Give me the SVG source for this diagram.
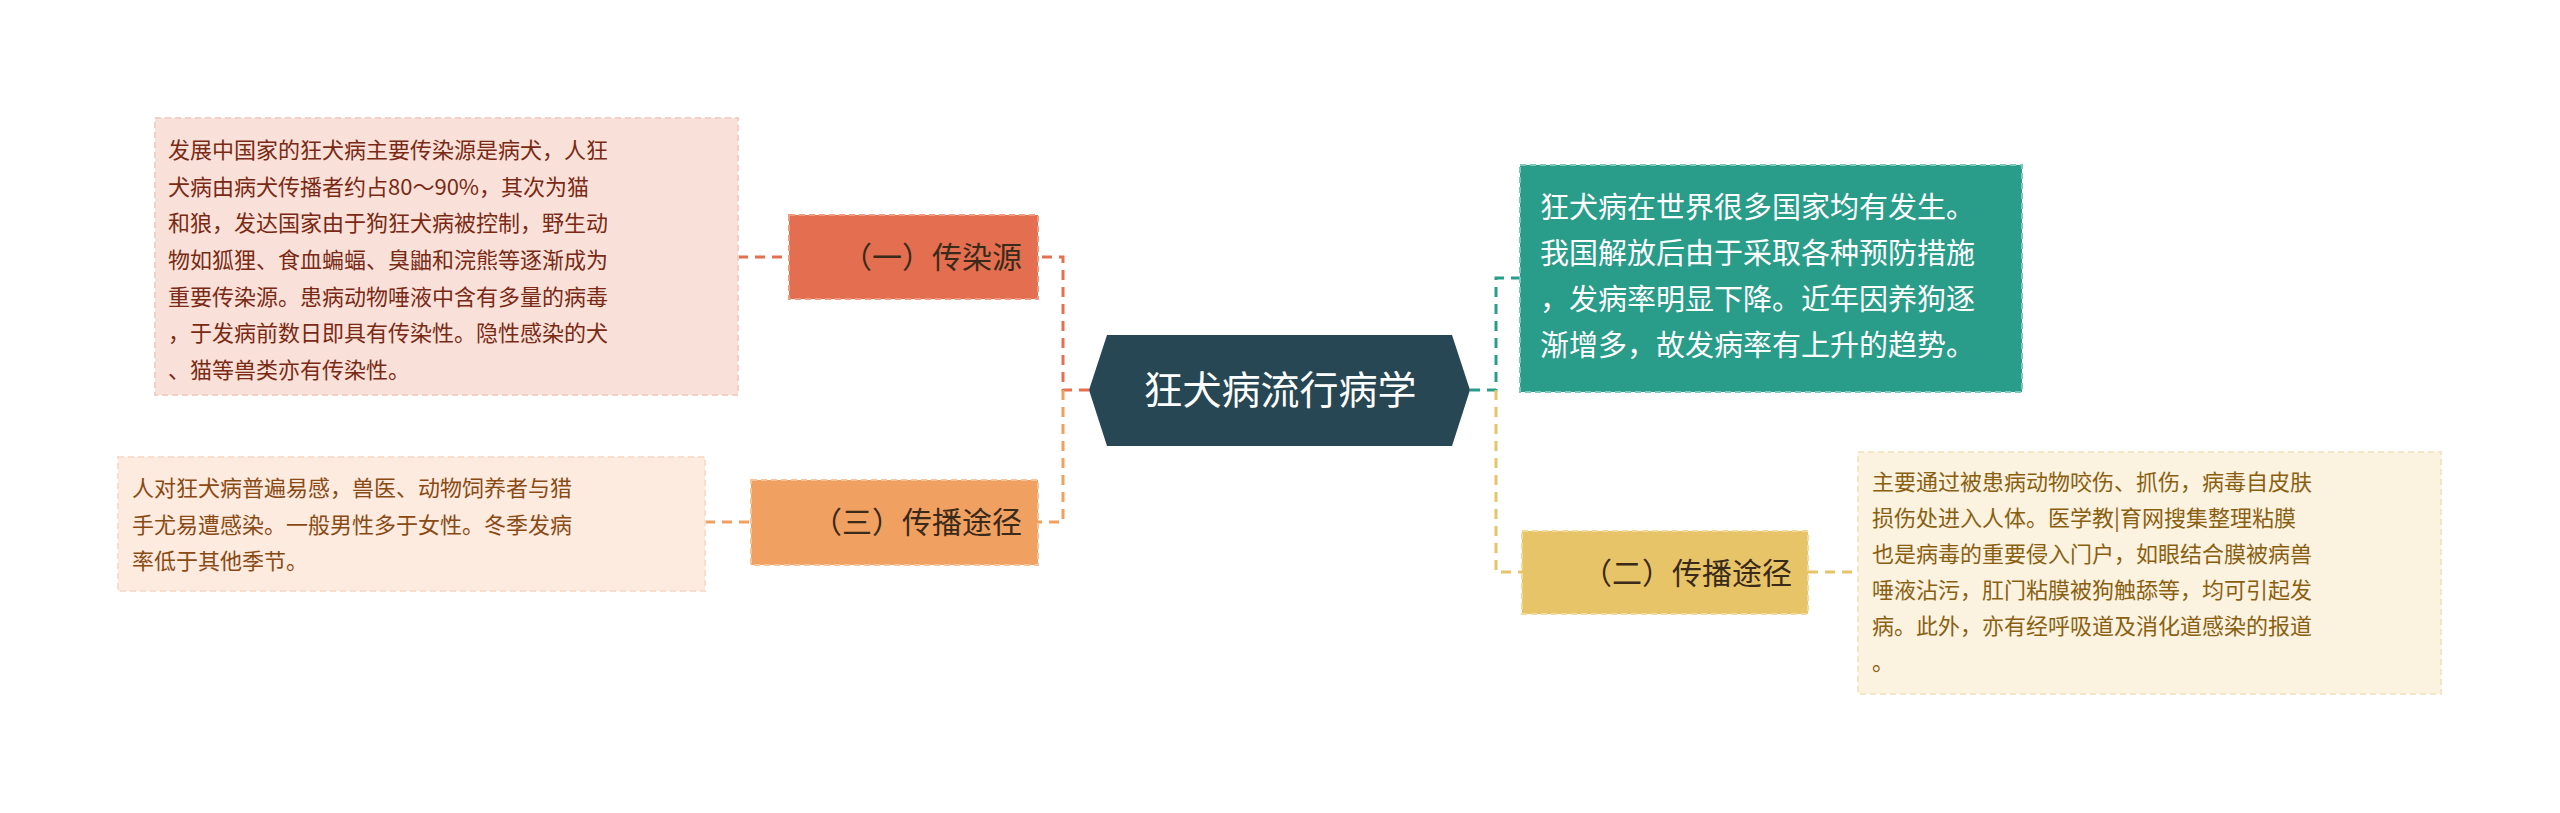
<svg xmlns="http://www.w3.org/2000/svg" width="2560" height="813" viewBox="0 0 2560 813">
<style>
text{font-family:"Noto Sans CJK SC","Liberation Sans",sans-serif}
.c{fill:none;stroke-width:3;stroke-dasharray:10 7}
.t1{font-size:22px;fill:#7a2a14}
.t3{font-size:22px;fill:#8a4a14}
.t2{font-size:22px;fill:#8a6010}
.tt{font-size:29px;fill:#ffffff}
.lab{font-size:30px;fill:#3a2a1a}
</style>
<rect width="2560" height="813" fill="#ffffff"/>
<g id="connectors">
<path class="c" stroke="#E5704F" d="M1089 390 H1063 V257 H1038"/>
<path class="c" stroke="#F0A060" d="M1063 390 V522 H1038"/>
<path class="c" stroke="#2A9D8A" d="M1470 390 H1496 V278 H1520"/>
<path class="c" stroke="#E8C468" d="M1496 390 V572 H1522"/>
<path class="c" stroke="#E5704F" d="M738 257 H789"/>
<path class="c" stroke="#F0A060" d="M705 522 H751"/>
<path class="c" stroke="#E8C468" d="M1808 572 H1858"/>
</g>
<g id="center">
<polygon points="1089,390 1107,335 1452,335 1470,390 1452,446 1107,446" fill="#274754"/>
<text x="1280" y="404" font-size="39" fill="#fff" text-anchor="middle">狂犬病流行病学</text>
</g>
<g id="n1">
<rect x="789" y="215" width="249" height="84" fill="#E36F50" stroke="#f09a80" stroke-width="2" stroke-dasharray="6 4"/>
<text class="lab" x="1022" y="268" text-anchor="end">（一）传染源</text>
</g>
<g id="leaf1">
<rect x="155" y="118" width="583" height="277" fill="#F9E1DA" stroke="#f3cfc4" stroke-width="2" stroke-dasharray="6 4"/>
<text class="t1" x="168" y="158">发展中国家的狂犬病主要传染源是病犬，人狂</text>
<text class="t1" x="168" y="195">犬病由病犬传播者约占80～90%，其次为猫</text>
<text class="t1" x="168" y="231">和狼，发达国家由于狗狂犬病被控制，野生动</text>
<text class="t1" x="168" y="268">物如狐狸、食血蝙蝠、臭鼬和浣熊等逐渐成为</text>
<text class="t1" x="168" y="305">重要传染源。患病动物唾液中含有多量的病毒</text>
<text class="t1" x="168" y="341">，于发病前数日即具有传染性。隐性感染的犬</text>
<text class="t1" x="168" y="378">、猫等兽类亦有传染性。</text>
</g>
<g id="n3">
<rect x="751" y="480" width="287" height="85" fill="#F0A060" stroke="#f7c49a" stroke-width="2" stroke-dasharray="6 4"/>
<text class="lab" x="1022" y="533" text-anchor="end">（三）传播途径</text>
</g>
<g id="leaf3">
<rect x="118" y="457" width="587" height="134" fill="#FDEBE0" stroke="#f8ddcc" stroke-width="2" stroke-dasharray="6 4"/>
<text class="t3" x="132" y="496">人对狂犬病普遍易感，兽医、动物饲养者与猎</text>
<text class="t3" x="132" y="533">手尤易遭感染。一般男性多于女性。冬季发病</text>
<text class="t3" x="132" y="569">率低于其他季节。</text>
</g>
<g id="leafT">
<rect x="1520" y="165" width="502" height="227" fill="#2A9D8A" stroke="#7cc9bb" stroke-width="2" stroke-dasharray="6 4"/>
<text class="tt" x="1540" y="218">狂犬病在世界很多国家均有发生。</text>
<text class="tt" x="1540" y="264">我国解放后由于采取各种预防措施</text>
<text class="tt" x="1540" y="310">，发病率明显下降。近年因养狗逐</text>
<text class="tt" x="1540" y="356">渐增多，故发病率有上升的趋势。</text>
</g>
<g id="n2">
<rect x="1522" y="531" width="286" height="83" fill="#E8C468" stroke="#f2da9c" stroke-width="2" stroke-dasharray="6 4"/>
<text class="lab" x="1792" y="584" text-anchor="end">（二）传播途径</text>
</g>
<g id="leaf2">
<rect x="1858" y="452" width="583" height="242" fill="#FBF2E0" stroke="#f3e6c6" stroke-width="2" stroke-dasharray="6 4"/>
<text class="t2" x="1872" y="490">主要通过被患病动物咬伤、抓伤，病毒自皮肤</text>
<text class="t2" x="1872" y="526">损伤处进入人体。医学教|育网搜集整理粘膜</text>
<text class="t2" x="1872" y="562">也是病毒的重要侵入门户，如眼结合膜被病兽</text>
<text class="t2" x="1872" y="598">唾液沾污，肛门粘膜被狗触舔等，均可引起发</text>
<text class="t2" x="1872" y="634">病。此外，亦有经呼吸道及消化道感染的报道</text>
<text class="t2" x="1872" y="670">。</text>
</g>
</svg>
